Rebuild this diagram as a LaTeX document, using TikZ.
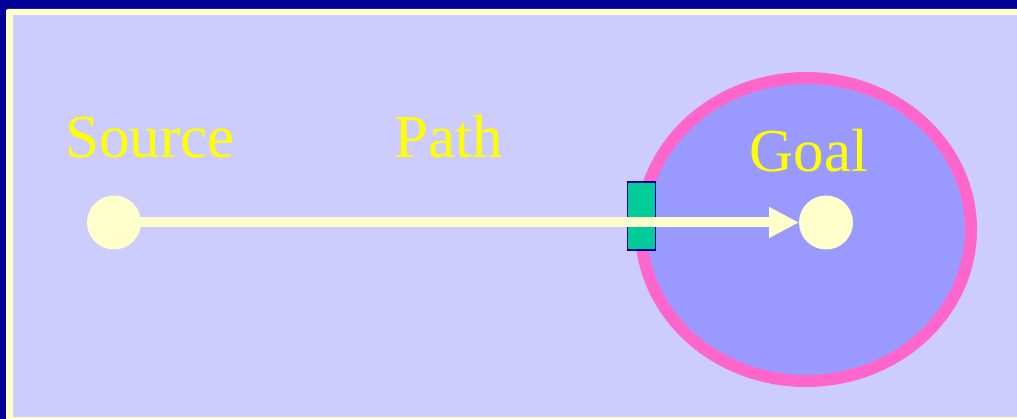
\documentclass[tikz,border=0pt]{standalone}
\usepackage{fontspec}
\setmainfont{Liberation Serif}
\usetikzlibrary{shapes.geometric,arrows.meta}
\definecolor{navy}{HTML}{000099}
\definecolor{cream}{HTML}{FFFFCC}
\definecolor{lav}{HTML}{CCCCFF}
\definecolor{goalfill}{HTML}{9999FF}
\definecolor{pinkring}{HTML}{FF66CC}
\definecolor{gate}{HTML}{00CC99}
\definecolor{label}{HTML}{FFFF00}
\tikzset{
  dot/.style={circle,fill=cream,minimum size=54pt,inner sep=0pt,outer sep=0pt},
  lbl/.style={anchor=base,text=label,inner sep=0pt,font=\fontsize{61}{61}\selectfont},
  region/.style={ellipse,draw=pinkring,line width=12pt,fill=goalfill,minimum width=330pt,minimum height=303pt,inner sep=0pt,outer sep=0pt},
  gatebox/.style={rectangle,fill=gate,draw=navy,line width=1.3pt,minimum width=27.6pt,minimum height=68pt,inner sep=0pt,outer sep=0pt},
  flow/.style={line width=10pt,draw=cream,-{Triangle[length=30pt,width=29pt,fill=cream]}}
}
\begin{document}
\begin{tikzpicture}[x=1pt,y=-1pt]
\useasboundingbox (0,0) rectangle (1017,419);
\fill[navy] (0,0) rectangle (1017,419);
\fill[cream,rounded corners=2pt] (6,9) rectangle (1040,440);
\fill[lav] (12.7,15) rectangle (1040,417);
\node[region] (goalregion) at (806,229.5) {};
\node[gatebox] (gate) at (641.5,216) {};
\node[dot] (source) at (114,222.5) {};
\node[dot] (goal) at (826,222.5) {};
\draw[flow] (source.center) -- (goal.west);
\node[lbl] (srclabel) at (150,158) {Source};
\node[lbl] (pathlabel) at (449,158) {Path};
\node[lbl] (goallabel) at (809,172) {Goal};
\end{tikzpicture}
\end{document}
